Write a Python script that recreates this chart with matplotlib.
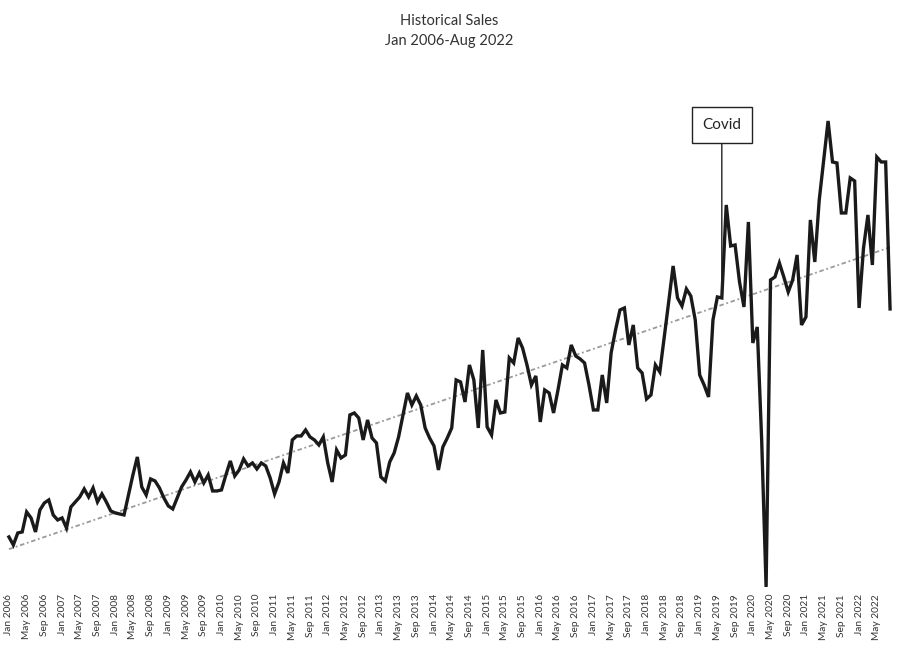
import numpy as np
import matplotlib
matplotlib.use("Agg")
import matplotlib.pyplot as plt

plt.rcParams['font.family'] = ['Lato', 'DejaVu Sans']

# monthly sales, Jan 2006 .. Aug 2022
sales = [
    63, 55, 67, 68, 88, 82, 68, 90, 97, 100, 85, 80,
    82, 72, 93, 98, 103, 111, 103, 112, 98, 106, 98, 89,
    87, 86, 85, 105, 125, 143, 113, 105, 121, 119, 112, 102,
    94, 91, 102, 113, 120, 128, 118, 127, 117, 125, 109, 109,
    110, 125, 139, 124, 130, 141, 134, 137, 131, 137, 134, 122,
    106, 118, 137, 127, 160, 164, 164, 170, 163, 160, 155, 163,
    137, 118, 150, 142, 145, 185, 187, 182, 160, 180, 162, 157,
    123, 119, 138, 147, 163, 185, 207, 195, 204, 195, 172, 162,
    154, 130, 153, 162, 172, 220, 218, 198, 235, 220, 172, 250,
    173, 165, 200, 187, 188, 242, 237, 262, 252, 235, 215, 224,
    178, 210, 207, 187, 210, 235, 232, 255, 244, 241, 237, 215,
    190, 190, 225, 197, 247, 270, 290, 292, 255, 275, 232, 227,
    201, 205, 235, 228, 263, 298, 334, 302, 294, 311, 304, 280,
    225, 215, 203, 280, 303, 302, 395, 354, 355, 318, 293, 378,
    257, 273, 160, 13, 320, 323, 337, 323, 308, 320, 345, 275,
    283, 380, 338, 400, 440, 479, 438, 437, 387, 387, 422, 419,
    292, 352, 385, 335, 443, 438, 438, 291,
]
months = ['Jan', 'Feb', 'Mar', 'Apr', 'May', 'Jun',
          'Jul', 'Aug', 'Sep', 'Oct', 'Nov', 'Dec']
labels = [f"{months[k % 12]} {2006 + k // 12}" for k in range(len(sales))]
covid_month = 'Jun 2019'

x = np.arange(len(sales))
y = np.array(sales)

fig = plt.figure(figsize=(8.99, 6.45), dpi=100)
ax = fig.add_axes([0.005, 0.09, 0.99, 0.755])

# linear trend
coef = np.polyfit(x, y, 1)
ax.plot(x, np.polyval(coef, x), color='#9a9a9a', lw=1.3,
        linestyle=(0, (2.5, 1.5, 1, 1.5)), zorder=1)
ax.plot(x, y, color='#1a1a1a', lw=2.4, solid_joinstyle='miter', zorder=2,
        clip_on=False)

ci = labels.index(covid_month)
ax.annotate('Covid', xy=(ci, sales[ci]), xytext=(ci, 475),
            ha='center', va='center', fontsize=11, color='#222222',
            bbox=dict(boxstyle='square,pad=0.7', fc='white', ec='#222222', lw=1),
            arrowprops=dict(arrowstyle='-', color='#222222', lw=1,
                            shrinkA=0, shrinkB=0))

ax.set_xlim(-1, 200)
ax.set_ylim(13, 500)
ax.set_xticks(x[::4])
ax.set_xticklabels(labels[::4], rotation=90, fontsize=7.3, color='#333333')
ax.tick_params(axis='x', length=0, pad=5)
ax.set_yticks([])
for s in ax.spines.values():
    s.set_visible(False)

fig.text(0.5, 0.978, 'Historical Sales\nJan 2006-Aug 2022', ha='center',
         va='top', fontsize=10.5, color='#333333', linespacing=1.55)

fig.savefig('out.png', dpi=100)
